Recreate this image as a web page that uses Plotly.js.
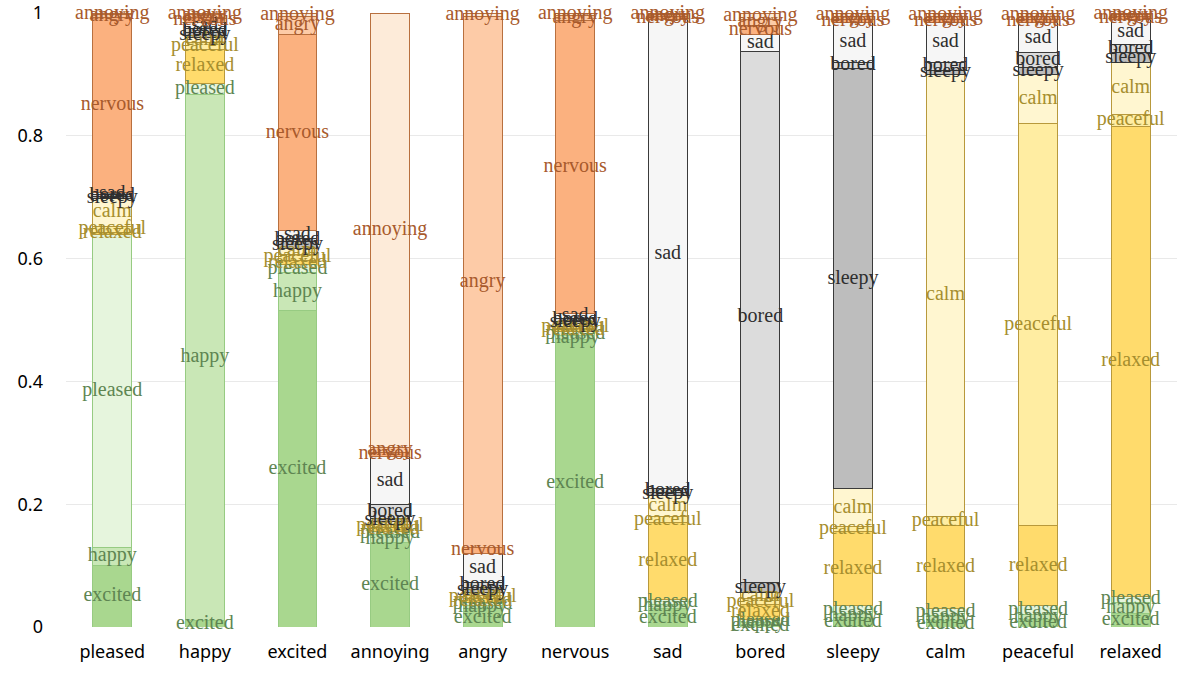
<!DOCTYPE html>
<html>
<head>
<meta charset="utf-8">
<script src="https://cdn.plot.ly/plotly-3.0.1.min.js"></script>
<style>html,body{margin:0;padding:0;background:#fff;}#chart{width:1199px;height:684px;}</style>
</head>
<body>
<div id="chart"></div>
<script>
// Bars (x categories)
const categories = ["pleased","happy","excited","annoying","angry","nervous","sad","bored","sleepy","calm","peaceful","relaxed"];
// Stack order, bottom to top
const segments = ["excited","happy","pleased","relaxed","peaceful","calm","sleepy","bored","sad","nervous","angry","annoying"];

// Share of each segment per bar
const excited  = [0.100, 0.010, 0.515, 0.137, 0.030, 0.468, 0.030, 0.004, 0.015, 0.010, 0.012, 0.022];
const happy    = [0.030, 0.858, 0.062, 0.013, 0.005, 0.006, 0.007, 0.004, 0.007, 0.008, 0.008, 0.018];
const pleased  = [0.510, 0.018, 0.013, 0.006, 0.005, 0.008, 0.007, 0.004, 0.013, 0.012, 0.015, 0.010];
const relaxed  = [0.003, 0.054, 0.007, 0.006, 0.006, 0.004, 0.126, 0.024, 0.120, 0.135, 0.130, 0.765];
const peaceful = [0.010, 0.012, 0.010, 0.005, 0.006, 0.004, 0.010, 0.010, 0.008, 0.015, 0.655, 0.020];
const calm     = [0.045, 0.008, 0.010, 0.005, 0.005, 0.004, 0.034, 0.010, 0.062, 0.720, 0.080, 0.085];
const sleepy   = [0.003, 0.008, 0.011, 0.005, 0.008, 0.004, 0.005, 0.016, 0.685, 0.007, 0.012, 0.015];
const bored    = [0.003, 0.006, 0.005, 0.022, 0.007, 0.004, 0.006, 0.865, 0.010, 0.013, 0.023, 0.013];
const sad      = [0.003, 0.010, 0.012, 0.079, 0.048, 0.008, 0.765, 0.028, 0.065, 0.065, 0.050, 0.042];
const nervous  = [0.286, 0.008, 0.320, 0.007, 0.010, 0.478, 0.004, 0.015, 0.005, 0.005, 0.005, 0.004];
const angry    = [0.004, 0.005, 0.030, 0.007, 0.865, 0.008, 0.003, 0.010, 0.005, 0.005, 0.005, 0.003];
const annoying = [0.003, 0.003, 0.005, 0.708, 0.005, 0.004, 0.003, 0.010, 0.005, 0.005, 0.005, 0.003];

const yTickVals = [0, 0.2, 0.4, 0.6, 0.8, 1];
const yTickText = ["0", "0.2", "0.4", "0.6", "0.8", "1"];

const seriesData = {excited, happy, pleased, relaxed, peaceful, calm, sleepy, bored, sad, nervous, angry, annoying};

const fillColor = {
  excited:"#a9d78f", happy:"#c9e7b6", pleased:"#e6f5dd",
  relaxed:"#ffdb6c", peaceful:"#ffeda2", calm:"#fff6d0",
  sleepy:"#bdbdbd", bored:"#dcdcdc", sad:"#f6f6f6",
  nervous:"#fbb17f", angry:"#fdcba7", annoying:"#fdebd9"
};
const group = {
  excited:"g", happy:"g", pleased:"g",
  relaxed:"y", peaceful:"y", calm:"y",
  sleepy:"k", bored:"k", sad:"k",
  nervous:"o", angry:"o", annoying:"o"
};
const lineColor = {g:"#97cb82", y:"#b8993c", k:"#3a3a3a", o:"#b8703f"};
const textColor = {g:"#5e8552", y:"#a68e2e", k:"#2e2e2e", o:"#a85a2c"};

// normalise each bar to 1
const totals = categories.map((_, i) => segments.reduce((s, k) => s + seriesData[k][i], 0));
const norm = {};
segments.forEach(k => { norm[k] = seriesData[k].map((v, i) => v / totals[i]); });

const traces = [];
segments.forEach(k => {
  traces.push({
    type: "bar", name: k, x: categories, y: norm[k],
    marker: {color: fillColor[k], line: {color: lineColor[group[k]], width: 1}},
    hoverinfo: "skip", showlegend: false
  });
});
// label traces at segment midpoints
const cum = categories.map(() => 0);
segments.forEach(k => {
  const mids = norm[k].map((v, i) => { const m = cum[i] + v / 2; cum[i] += v; return m; });
  traces.push({
    type: "scatter", mode: "text", x: categories, y: mids,
    text: categories.map(() => k), textposition: "middle center",
    textfont: {family: "Liberation Serif, Times New Roman, serif", size: 20, color: textColor[group[k]]},
    cliponaxis: false, hoverinfo: "skip", showlegend: false
  });
});

const layout = {
  width: 1199, height: 684,
  margin: {l: 66, r: 22, t: 13, b: 57},
  paper_bgcolor: "#fff", plot_bgcolor: "#fff",
  barmode: "stack", bargap: 0.58,
  showlegend: false,
  font: {family: "Noto Sans, sans-serif", size: 18, color: "#000"},
  xaxis: {
    type: "category", categoryarray: categories, categoryorder: "array",
    range: [-0.5, categories.length - 0.5], autorange: false,
    showgrid: false, zeroline: false, showline: false, ticks: "",
    ticklabelstandoff: 12, tickfont: {size: 18}
  },
  yaxis: {
    range: [0, 1], autorange: false, tickvals: yTickVals, ticktext: yTickText,
    showgrid: true, gridcolor: "#e9e9e9", gridwidth: 1,
    zeroline: false, showline: false, ticks: "",
    ticklabelstandoff: 22, tickfont: {size: 18}
  }
};

Plotly.newPlot("chart", traces, layout, {displayModeBar: false, staticPlot: true});
</script>
</body>
</html>
